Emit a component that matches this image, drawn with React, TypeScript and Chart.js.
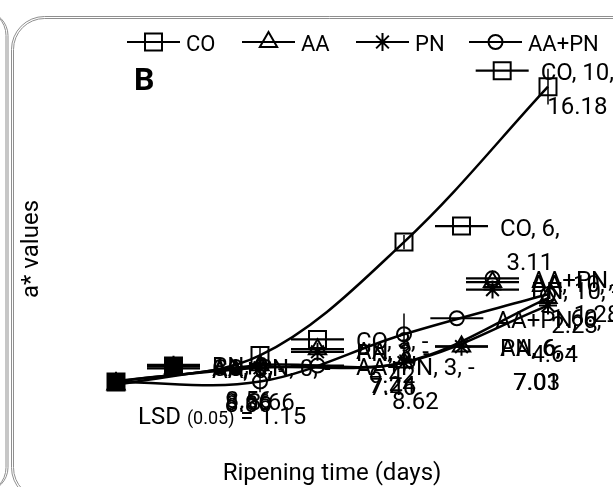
import React, { useEffect, useRef } from 'react';
import { Chart, registerables } from 'chart.js';
import { drawPoint } from 'chart.js/helpers';

Chart.register(...registerables);

// ---- data ----
const DAYS = ['0', '3', '6', '10'];
const SERIES_NAMES = ['CO', 'AA', 'PN', 'AA+PN'];
const CO_VALUES = [-8.66, -6.42, 3.11, 16.18];
const AA_VALUES = [-8.86, -7.24, -7.01, -1.6];
const PN_VALUES = [-8.56, -7.46, -7.03, -2.23];
const AAPN_VALUES = [-8.66, -8.62, -4.64, -1.28];
const CO_ERR = [0.2, 0.8, 0.6, 1.5];
const AA_ERR = [0.2, 0.5, 0.4, 0.6];
const PN_ERR = [0.2, 0.5, 0.4, 0.6];
const AAPN_ERR = [0.2, 0.9, 1.75, 0.7];
const Y_MIN = -10;
const Y_MAX = 18;
const X_TITLE = 'Ripening time (days)';
const Y_TITLE = 'a* values';
const PANEL_LETTER = 'B';
const LSD_PARTS = ['LSD ', '(0.05)', ' = 1.15'];

const VALUES = [CO_VALUES, AA_VALUES, PN_VALUES, AAPN_VALUES];
const ERRS = [CO_ERR, AA_ERR, PN_ERR, AAPN_ERR];
const STYLES = ['rect', 'triangle', 'star', 'circle'];
const RADII = [12, 10, 9, 7];
const CLEAR = 'rgba(0,0,0,0)';
const FILLS = [
  ['#000', CLEAR, CLEAR, CLEAR],
  [CLEAR, CLEAR, CLEAR, CLEAR],
  [CLEAR, CLEAR, CLEAR, CLEAR],
  [CLEAR, CLEAR, CLEAR, CLEAR],
];
const FONT = 'Roboto, "DejaVu Sans", sans-serif';

function marker(ctx: CanvasRenderingContext2D, di: number, x: number, y: number, fill: string) {
  ctx.save();
  ctx.strokeStyle = '#000';
  ctx.fillStyle = fill;
  ctx.lineWidth = 2;
  drawPoint(ctx, { pointStyle: STYLES[di] as any, radius: RADII[di], rotation: 0, borderWidth: 2 } as any, x, y);
  ctx.restore();
}

function keyLine(ctx: CanvasRenderingContext2D, di: number, x0: number, y: number, fill: string) {
  ctx.save();
  ctx.strokeStyle = '#000';
  ctx.lineWidth = 2.2;
  ctx.beginPath();
  ctx.moveTo(x0, y);
  ctx.lineTo(x0 + 53, y);
  ctx.stroke();
  ctx.restore();
  marker(ctx, di, x0 + 26.5, y, fill);
}

function roundedPanel(ctx: CanvasRenderingContext2D, x: number, y: number, w: number, h: number, r: number) {
  ctx.beginPath();
  ctx.moveTo(x + r, y);
  ctx.lineTo(x + w - r, y);
  ctx.arcTo(x + w, y, x + w, y + r, r);
  ctx.lineTo(x + w, y + h - r);
  ctx.arcTo(x + w, y + h, x + w - r, y + h, r);
  ctx.lineTo(x + r, y + h);
  ctx.arcTo(x, y + h, x, y + h - r, r);
  ctx.lineTo(x, y + r);
  ctx.arcTo(x, y, x + r, y, r);
  ctx.closePath();
  ctx.stroke();
}

const decorPlugin = {
  id: 'decor',
  afterDatasetsDraw(chart: any) {
    const ctx: CanvasRenderingContext2D = chart.ctx;
    const ys = chart.scales.y;
    // error bars
    chart.data.datasets.forEach((ds: any, di: number) => {
      const meta = chart.getDatasetMeta(di);
      meta.data.forEach((pt: any, i: number) => {
        const v = ds.data[i];
        const e = ERRS[di][i];
        ctx.save();
        ctx.strokeStyle = '#000';
        ctx.lineWidth = 1.5;
        ctx.beginPath();
        ctx.moveTo(pt.x, ys.getPixelForValue(v + e));
        ctx.lineTo(pt.x, ys.getPixelForValue(v - e));
        ctx.stroke();
        ctx.restore();
      });
    });
    // data labels with legend keys
    chart.data.datasets.forEach((ds: any, di: number) => {
      const meta = chart.getDatasetMeta(di);
      meta.data.forEach((pt: any, i: number) => {
        const v = ds.data[i];
        const name = SERIES_NAMES[di];
        const day = DAYS[i];
        const l1 = v < 0 ? `${name}, ${day}, -` : `${name}, ${day},`;
        const l2 = Math.abs(v).toFixed(2);
        ctx.save();
        ctx.font = `24px ${FONT}`;
        const w1 = ctx.measureText(l1).width;
        let k0 = pt.x + 31;
        const total = 53 + 12 + w1;
        if (k0 + total > 614) k0 = Math.max(614 - total, pt.x - 82);
        ctx.restore();
        keyLine(ctx, di, k0, pt.y - 16, FILLS[di][i]);
        const tx = k0 + 65;
        ctx.save();
        ctx.font = `24px ${FONT}`;
        ctx.fillStyle = '#000';
        ctx.textBaseline = 'alphabetic';
        ctx.textAlign = 'left';
        ctx.fillText(l1, tx, pt.y - 6.5);
        ctx.textAlign = 'center';
        ctx.fillText(l2, tx + w1 / 2, pt.y + 27.5);
        ctx.restore();
      });
    });
  },
  afterDraw(chart: any) {
    const ctx: CanvasRenderingContext2D = chart.ctx;
    ctx.save();
    // panel borders (double grey lines)
    ctx.strokeStyle = '#8f8f8f';
    ctx.lineWidth = 1;
    roundedPanel(ctx, 11.5, 16.5, 700, 484, 33);
    roundedPanel(ctx, 13.5, 18.5, 700, 480, 31);
    roundedPanel(ctx, -400, 9.5, 406, 484, 26);
    roundedPanel(ctx, -400, 11.5, 408, 480, 24);
    ctx.restore();

    // legend
    const lx = [127, 242, 356, 469];
    SERIES_NAMES.forEach((n, di) => {
      keyLine(ctx, di, lx[di], 42, CLEAR);
      ctx.save();
      ctx.font = `22px ${FONT}`;
      ctx.fillStyle = '#000';
      ctx.textBaseline = 'alphabetic';
      ctx.textAlign = 'left';
      ctx.fillText(n, lx[di] + 59, 50.5);
      ctx.restore();
    });

    ctx.save();
    ctx.fillStyle = '#000';
    // panel letter
    ctx.font = `bold 32px ${FONT}`;
    ctx.textAlign = 'left';
    ctx.textBaseline = 'alphabetic';
    ctx.fillText(PANEL_LETTER, 134, 89.5);
    // x title
    ctx.font = `24px ${FONT}`;
    ctx.textAlign = 'center';
    const ca = chart.chartArea;
    ctx.fillText(X_TITLE, (ca.left + ca.right) / 2, 480);
    // y title
    ctx.save();
    ctx.translate(37.5, 249);
    ctx.rotate(-Math.PI / 2);
    ctx.fillText(Y_TITLE, 0, 0);
    ctx.restore();
    // LSD
    ctx.textAlign = 'left';
    let x = 138;
    const sizes = [24, 18, 24];
    LSD_PARTS.forEach((p, k) => {
      ctx.font = `${sizes[k]}px ${FONT}`;
      ctx.fillText(p, x, 424);
      x += ctx.measureText(p).width;
    });
    ctx.restore();
  },
};

export default function App() {
  const ref = useRef<HTMLCanvasElement>(null);
  useEffect(() => {
    const datasets = VALUES.map((vals, di) => ({
      label: SERIES_NAMES[di],
      data: vals,
      borderColor: '#000',
      borderWidth: 2.5,
      tension: 0.35,
      fill: false,
      clip: false as any,
      pointStyle: STYLES[di] as any,
      pointRadius: RADII[di],
      pointBorderWidth: 2,
      pointBorderColor: '#000',
      pointBackgroundColor: FILLS[di],
    }));
    const chart = new Chart(ref.current as HTMLCanvasElement, {
      type: 'line',
      data: { labels: DAYS, datasets },
      options: {
        responsive: false,
        animation: false,
        devicePixelRatio: 1,
        layout: { padding: { left: 116, right: 65, top: 65, bottom: 89 } },
        scales: {
          x: { type: 'category', display: false, offset: false },
          y: { type: 'linear', display: false, min: Y_MIN, max: Y_MAX },
        },
        plugins: { legend: { display: false }, tooltip: { enabled: false } },
      },
      plugins: [decorPlugin],
    });
    return () => chart.destroy();
  }, []);
  return (
    <div style={{ position: 'fixed', left: 0, top: 0, width: 613, height: 487, background: '#fff', overflow: 'hidden' }}>
      <canvas ref={ref} width={613} height={487} style={{ display: 'block', width: 613, height: 487 }} />
    </div>
  );
}
